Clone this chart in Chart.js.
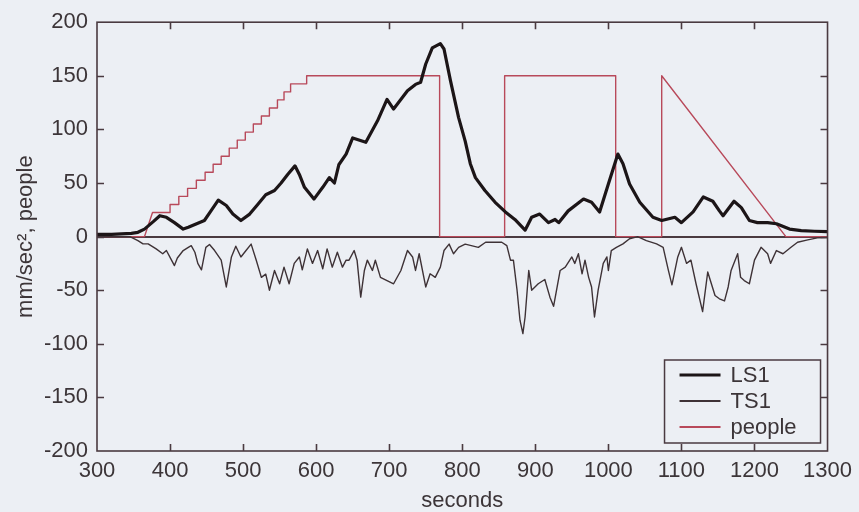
<!DOCTYPE html>
<html>
<head>
<meta charset="utf-8">
<script src="https://cdn.jsdelivr.net/npm/chart.js@4.4.1/dist/chart.umd.min.js"></script>
<style>
  html, body { margin: 0; padding: 0; background: #eceff4; }
  #wrap { width: 859px; height: 512px; position: relative; }
</style>
</head>
<body>
<div id="wrap"><canvas id="c" width="859" height="512"></canvas></div>
<script>
// LS1 acceleration (mm/sec^2) against time (seconds)
const ls1Seconds = [300, 320, 347, 356, 365, 377, 386, 395, 406, 418, 425, 447, 456, 466, 477, 486, 497, 509, 520, 531,
  543, 552, 561, 571, 577, 584, 597, 609, 618, 625, 631, 641, 650, 668, 684, 697, 706, 725, 736, 743,
  750, 759, 770, 775, 784, 795, 804, 811, 818, 831, 845, 859, 872, 886, 895, 906, 918, 927, 932, 945,
  966, 977, 988, 1000, 1013, 1020, 1029, 1043, 1061, 1073, 1091, 1100, 1116, 1130, 1143, 1152, 1157, 1172, 1182, 1193,
  1204, 1218, 1230, 1248, 1264, 1282, 1300];
const ls1Values = [2, 2, 3, 4, 7, 14, 19.5, 18, 13, 7, 8.7, 15, 24, 34, 29, 21, 15, 21, 30, 39,
  43, 50, 58, 66, 58, 46, 35, 46, 55, 50, 67, 77, 92, 88, 108, 128, 119, 136, 142, 144,
  161, 176, 180, 175, 145, 111, 89, 68, 55, 43, 32, 23, 16, 6, 18, 21, 13, 16, 13, 24,
  35, 32, 23, 49, 77, 68, 49, 32, 18, 15, 18, 13, 23, 37, 33, 24, 19.5, 33, 27, 15,
  13, 13, 12, 7, 5.6, 5, 4.6];

// TS1 acceleration (mm/sec^2)
const ts1Seconds = [300, 345, 356, 363, 370, 381, 390, 395, 402, 406, 410, 418, 425, 429, 434, 438, 443, 449, 454, 461,
  470, 477, 484, 490, 497, 504, 511, 518, 525, 531, 536, 543, 550, 556, 563, 570, 577, 581, 588, 595,
  602, 609, 615, 622, 629, 636, 641, 645, 652, 656, 661, 666, 670, 677, 681, 688, 697, 706, 716, 725,
  732, 736, 741, 750, 756, 763, 770, 775, 782, 788, 795, 804, 822, 832, 854, 861, 866, 870, 875, 879,
  883, 886, 891, 895, 904, 913, 920, 925, 934, 941, 950, 954, 959, 964, 968, 973, 977, 981, 986, 993,
  998, 1000, 1004, 1011, 1020, 1029, 1040, 1052, 1066, 1075, 1082, 1087, 1095, 1100, 1107, 1113, 1120, 1129, 1136, 1146,
  1152, 1159, 1164, 1168, 1177, 1181, 1186, 1193, 1200, 1209, 1218, 1222, 1230, 1239, 1250, 1259, 1273, 1286, 1300];
const ts1Values = [0, 0, -3.7, -6.8, -6.8, -11.5, -16, -13, -22, -27, -20, -13, -10, -8.5, -14.6, -25, -31, -10, -7.4, -13,
  -22, -47, -19, -9, -19, -13, -7, -22, -38, -35, -50, -31.6, -44, -28.5, -44, -25, -19, -31, -11.5, -25,
  -13, -30, -11.5, -28.5, -14.6, -28.5, -22, -22, -13, -22, -56.5, -31.6, -22, -31.6, -22, -38, -41, -44, -31.6, -13,
  -19, -31.6, -16, -47, -34.7, -38, -28.5, -13, -7, -16, -10, -7, -10, -5.3, -5.3, -8.4, -22, -22, -50, -78,
  -90.5, -75, -31.6, -50, -44, -40, -56.5, -65, -31.6, -28.5, -19, -25, -16, -34.7, -22, -38, -47, -75, -50, -25,
  -19, -31.6, -13, -10, -6.8, -2, 0, -3.7, -6.8, -10, -31, -45, -19, -10, -25, -22, -44, -70, -33, -55,
  -58, -60, -47, -31.6, -16, -38, -41, -44, -22, -10, -16, -25, -13, -16, -10, -5.3, -3, -1.2, -1];

// number of people on the span (corner points of the loading sequence)
const peopleSeconds = [300, 365, 376, 400, 400, 412, 412, 424, 424, 436, 436, 448, 448, 459, 459, 470, 470, 481, 481, 492,
  492, 503, 503, 514, 514, 525, 525, 536, 536, 547, 547, 556, 556, 565, 565, 587, 587, 769, 769, 858,
  858, 1010, 1010, 1073, 1073, 1243, 1300];
const peopleCount = [0, 0, 22.5, 22.5, 30, 30, 37.5, 37.5, 45, 45, 52.5, 52.5, 60, 60, 67.5, 67.5, 75, 75, 82.5, 82.5,
  90, 90, 97.5, 97.5, 105, 105, 112.5, 112.5, 120, 120, 127.5, 127.5, 135, 135, 142.5, 142.5, 150, 150, 0, 0,
  150, 150, 0, 0, 150, 0, 0];

const seriesNames = ['LS1', 'TS1', 'people'];
const xTitle = 'seconds';
const yTitle = 'mm/sec\u00B2, people';

const axisColor = '#4a3a40';
const textColor = '#3c3538';
const bgColor = '#eceff4';
const fontFamily = '"Liberation Sans", Arial, sans-serif';

const toPoints = (xs, ys) => xs.map((x, i) => ({ x: x, y: ys[i] }));

// frame, inward tick marks and the boxed legend
const framePlugin = {
  id: 'frame',
  afterDatasetsDraw(chart) {
    const { ctx, chartArea: a, scales: { x, y } } = chart;
    ctx.save();
    ctx.strokeStyle = axisColor;
    ctx.lineWidth = 1.6;
    ctx.strokeRect(a.left, a.top, a.right - a.left, a.bottom - a.top);
    ctx.beginPath();
    x.ticks.forEach(t => {
      if (t.value <= x.min || t.value >= x.max) return;
      const px = Math.round(x.getPixelForValue(t.value)) + 0.5;
      ctx.moveTo(px, a.bottom); ctx.lineTo(px, a.bottom - 7);
      ctx.moveTo(px, a.top); ctx.lineTo(px, a.top + 7);
    });
    y.ticks.forEach(t => {
      if (t.value <= y.min || t.value >= y.max) return;
      const py = Math.round(y.getPixelForValue(t.value)) + 0.5;
      ctx.moveTo(a.left, py); ctx.lineTo(a.left + 7, py);
      ctx.moveTo(a.right, py); ctx.lineTo(a.right - 7, py);
    });
    ctx.stroke();

    // legend box in the lower right corner of the plot
    const bx = a.right - 163, by = a.bottom - 91, bw = 156, bh = 83;
    ctx.fillStyle = bgColor;
    ctx.fillRect(bx, by, bw, bh);
    ctx.lineWidth = 1.5;
    ctx.strokeStyle = axisColor;
    ctx.strokeRect(bx, by, bw, bh);
    ctx.font = '22px ' + fontFamily;
    ctx.textBaseline = 'middle';
    ctx.textAlign = 'left';
    chart.data.datasets.forEach((ds, i) => {
      const ry = by + 15 + i * 26;
      ctx.beginPath();
      ctx.strokeStyle = ds.borderColor;
      ctx.lineWidth = Math.max(ds.borderWidth, 1.8);
      ctx.moveTo(bx + 15, ry);
      ctx.lineTo(bx + 56, ry);
      ctx.stroke();
      ctx.fillStyle = textColor;
      ctx.fillText(ds.label, bx + 66, ry + 1);
    });
    ctx.restore();
  }
};

new Chart(document.getElementById('c'), {
  type: 'line',
  data: {
    datasets: [
      { label: seriesNames[0], data: toPoints(ls1Seconds, ls1Values), borderColor: '#1c1517', borderWidth: 3.2 },
      { label: seriesNames[1], data: toPoints(ts1Seconds, ts1Values), borderColor: '#3e3236', borderWidth: 1.4 },
      { label: seriesNames[2], data: toPoints(peopleSeconds, peopleCount), borderColor: '#b8495a', borderWidth: 1.4 }
    ]
  },
  options: {
    responsive: false,
    animation: false,
    devicePixelRatio: 1,
    parsing: false,
    elements: { point: { radius: 0 }, line: { tension: 0, borderJoinStyle: 'round' } },
    layout: { padding: { left: 0, right: 29, top: 20, bottom: 0 } },
    plugins: { legend: { display: false }, tooltip: { enabled: false } },
    scales: {
      x: {
        type: 'linear', min: 300, max: 1300,
        border: { display: false },
        grid: { display: false, drawTicks: false },
        ticks: { stepSize: 100, color: textColor, font: { family: fontFamily, size: 22 }, padding: 7, maxRotation: 0,
          callback: v => String(v) },
        title: { display: true, text: xTitle, color: textColor, font: { family: fontFamily, size: 22 }, padding: { top: 0, bottom: -2 } },
        afterFit(s) { s.height = 61; }
      },
      y: {
        type: 'linear', min: -200, max: 200,
        border: { display: false },
        grid: {
          drawTicks: false,
          color: c => (c.tick && c.tick.value === 0 ? axisColor : 'transparent'),
          lineWidth: c => (c.tick && c.tick.value === 0 ? 2 : 0)
        },
        ticks: { stepSize: 50, color: textColor, font: { family: fontFamily, size: 22 }, padding: 9,
          callback: v => String(v) },
        title: { display: true, text: yTitle, color: textColor, font: { family: fontFamily, size: 22 }, padding: { top: 13, bottom: 0 } },
        afterFit(s) { s.width = 97; }
      }
    }
  },
  plugins: [framePlugin]
});
</script>
</body>
</html>
